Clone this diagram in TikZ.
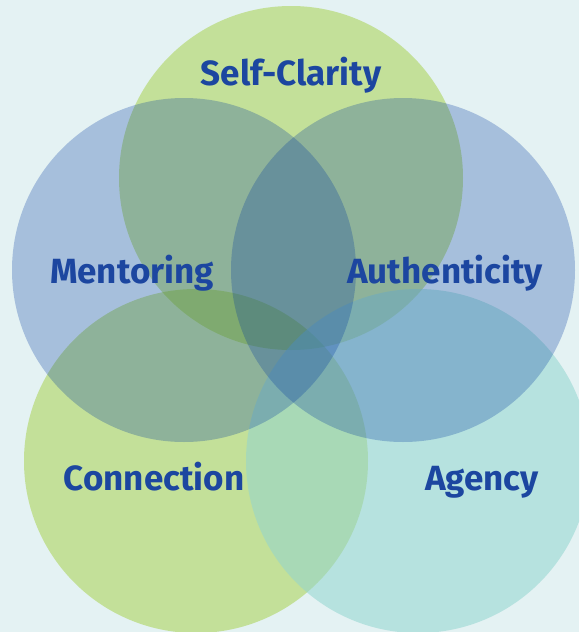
\documentclass[tikz,border=0pt]{standalone}
\usepackage{fontspec}
\setmainfont{Fira Sans}
\definecolor{bgc}{RGB}{228,242,243}
\definecolor{grn}{RGB}{140,195,0}
\definecolor{tea}{RGB}{146,213,207}
\definecolor{blu}{RGB}{2,57,158}
\definecolor{txt}{RGB}{28,70,160}
\tikzset{
  gcirc/.style={fill=grn, fill opacity=0.37, draw=none},
  tcirc/.style={fill=tea, fill opacity=0.55, draw=none},
  bcirc/.style={fill=blu, fill opacity=0.27, draw=none},
  lbl/.style={text=txt, font=\bfseries\fontsize{35}{40}\selectfont, inner sep=0pt, anchor=base}
}
\begin{document}
\begin{tikzpicture}[x=1pt,y=-1pt]
\fill[bgc] (0,0) rectangle (579,632);
\useasboundingbox (0,0) rectangle (579,632);
\begin{scope}
\clip (0,0) rectangle (579,632);
\fill[gcirc] (291,178) circle[radius=172];
\fill[gcirc] (196,461) circle[radius=172];
\fill[tcirc] (418,461) circle[radius=172];
\fill[bcirc] (184,270) circle[radius=172];
\fill[bcirc] (403,270) circle[radius=172];
\end{scope}
\node[lbl] (sc) at (291,85) {Self-Clarity};
\node[lbl] (me) at (132,283) {Mentoring};
\node[lbl] (au) at (445,283) {Authenticity};
\node[lbl] (co) at (154,490) {Connection};
\node[lbl] (ag) at (482,490) {Agency};
\end{tikzpicture}
\end{document}
